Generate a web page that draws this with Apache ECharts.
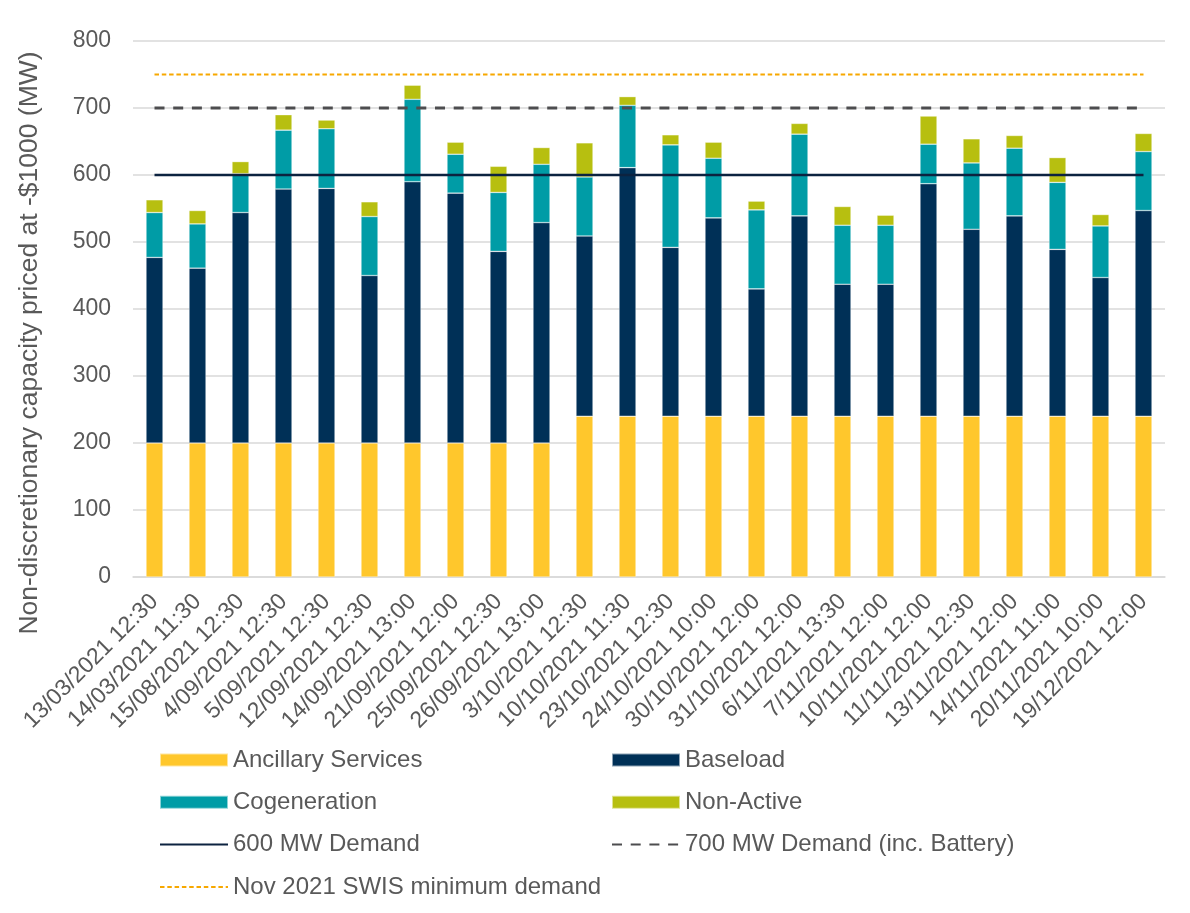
<!DOCTYPE html>
<html>
<head>
<meta charset="utf-8">
<script src="https://cdn.jsdelivr.net/npm/echarts@6/dist/echarts.min.js"></script>
<style>
    html, body { margin: 0; padding: 0; background: #fff; }
    #chart { width: 1190px; height: 913px; }
</style>
</head>
<body>
<div id="chart"></div>
<script>
// categories (dispatch intervals)
var categories = ['13/03/2021 12:30', '14/03/2021 11:30', '15/08/2021 12:30', '4/09/2021 12:30',
    '5/09/2021 12:30', '12/09/2021 12:30', '14/09/2021 13:00', '21/09/2021 12:00',
    '25/09/2021 12:30', '26/09/2021 13:00', '3/10/2021 12:30', '10/10/2021 11:30',
    '23/10/2021 12:30', '24/10/2021 10:00', '30/10/2021 12:00', '31/10/2021 12:00',
    '6/11/2021 13:30', '7/11/2021 12:00', '10/11/2021 12:00', '11/11/2021 12:30',
    '13/11/2021 12:00', '14/11/2021 11:00', '20/11/2021 10:00', '19/12/2021 12:00'];

// stacked values (MW)
var ancillary = [200, 200, 200, 200, 200, 200, 200, 200, 200, 200, 240, 240,
    240, 240, 240, 240, 240, 240, 240, 240, 240, 240, 240, 240];
var baseload = [277, 261, 344, 379, 380, 250, 390, 373, 286, 329, 269, 371,
    252, 296, 190, 299, 197, 197, 347, 279, 299, 249, 207, 307];
var cogeneration = [67, 66, 58, 88, 89, 88, 123, 58, 88, 87, 88, 93,
    153, 89, 118, 122, 88, 88, 59, 99, 101, 100, 77, 88];
var nonActive = [19, 20, 18, 23, 13, 22, 21, 18, 39, 25, 51, 13,
    15, 24, 13, 16, 28, 15, 42, 36, 19, 37, 17, 27];

// reference demand levels (MW)
var demand600 = 600;
var demand700 = 700;
var swisMin = 750;

var yTicks = {min: 0, max: 800, interval: 100};

var textColor = '#595959';
var fontFamily = 'Liberation Sans, Arial, sans-serif';

var myChart = echarts.init(document.getElementById('chart'));

var barSeries = function (name, data, color) {
    return {
        name: name,
        type: 'bar',
        stack: 'total',
        barWidth: 17,
        data: data,
        itemStyle: {color: color, borderColor: 'rgba(255,255,255,0.55)', borderWidth: 0.6},
        emphasis: {disabled: true}
    };
};

var lineSeries = function (name, value, style) {
    return {
        name: name,
        type: 'line',
        symbol: 'none',
        z: 5,
        color: style.color,
        data: categories.map(function () { return value; }),
        lineStyle: style,
        emphasis: {disabled: true}
    };
};

var legendText = {color: textColor, fontSize: 24, lineHeight: 23, fontFamily: fontFamily};
// hide the marker dot on line legend icons
var noDot = {opacity: 0};

var option = {
    animation: false,
    backgroundColor: '#fff',
    textStyle: {fontFamily: fontFamily},
    grid: {left: 133, right: 25, top: 41, bottom: 336, containLabel: false},
    legend: [{
        orient: 'vertical',
        left: 159,
        top: 748,
        padding: 0,
        itemWidth: 68,
        itemHeight: 13,
        itemGap: 18.3,
        textStyle: legendText,
        data: [
            {name: 'Ancillary Services', icon: 'rect'},
            {name: 'Cogeneration', icon: 'rect'},
            {name: '600 MW Demand', itemStyle: noDot},
            {name: 'Nov 2021 SWIS minimum demand', itemStyle: noDot}
        ]
    }, {
        orient: 'vertical',
        left: 611,
        top: 748,
        padding: 0,
        itemWidth: 68,
        itemHeight: 13,
        itemGap: 18.3,
        textStyle: legendText,
        data: [
            {name: 'Baseload', icon: 'rect'},
            {name: 'Non-Active', icon: 'rect'},
            {name: '700 MW Demand (inc. Battery)', itemStyle: noDot}
        ]
    }],
    xAxis: {
        type: 'category',
        data: categories,
        boundaryGap: true,
        axisLine: {lineStyle: {color: '#d9d9d9', width: 1.5}},
        axisTick: {show: false},
        axisLabel: {
            interval: 0,
            rotate: 45,
            margin: 21,
            color: textColor,
            fontSize: 23,
            fontFamily: fontFamily
        }
    },
    yAxis: {
        type: 'value',
        min: yTicks.min,
        max: yTicks.max,
        interval: yTicks.interval,
        axisLine: {show: false},
        axisTick: {show: false},
        axisLabel: {color: textColor, fontSize: 23, margin: 22, fontFamily: fontFamily},
        splitLine: {lineStyle: {color: '#d9d9d9', width: 1.5}}
    },
    graphic: [{
        type: 'text',
        x: 30,
        y: 343,
        rotation: Math.PI / 2,
        style: {
            text: 'Non-discretionary capacity priced at -$1000 (MW)',
            fill: textColor,
            font: '26.5px ' + fontFamily,
            textAlign: 'center',
            textVerticalAlign: 'middle'
        }
    }],
    series: [
        barSeries('Ancillary Services', ancillary, '#ffc72c'),
        barSeries('Baseload', baseload, '#003057'),
        barSeries('Cogeneration', cogeneration, '#009ca6'),
        barSeries('Non-Active', nonActive, '#b7bf10'),
        lineSeries('600 MW Demand', demand600, {color: '#0c2340', width: 2.5, type: 'solid'}),
        lineSeries('700 MW Demand (inc. Battery)', demand700, {color: '#4d4d4f', width: 3, type: [10, 8.7]}),
        lineSeries('Nov 2021 SWIS minimum demand', swisMin, {color: '#f7a800', width: 2, type: [4.5, 2.8]})
    ]
};

myChart.setOption(option);
</script>
</body>
</html>
